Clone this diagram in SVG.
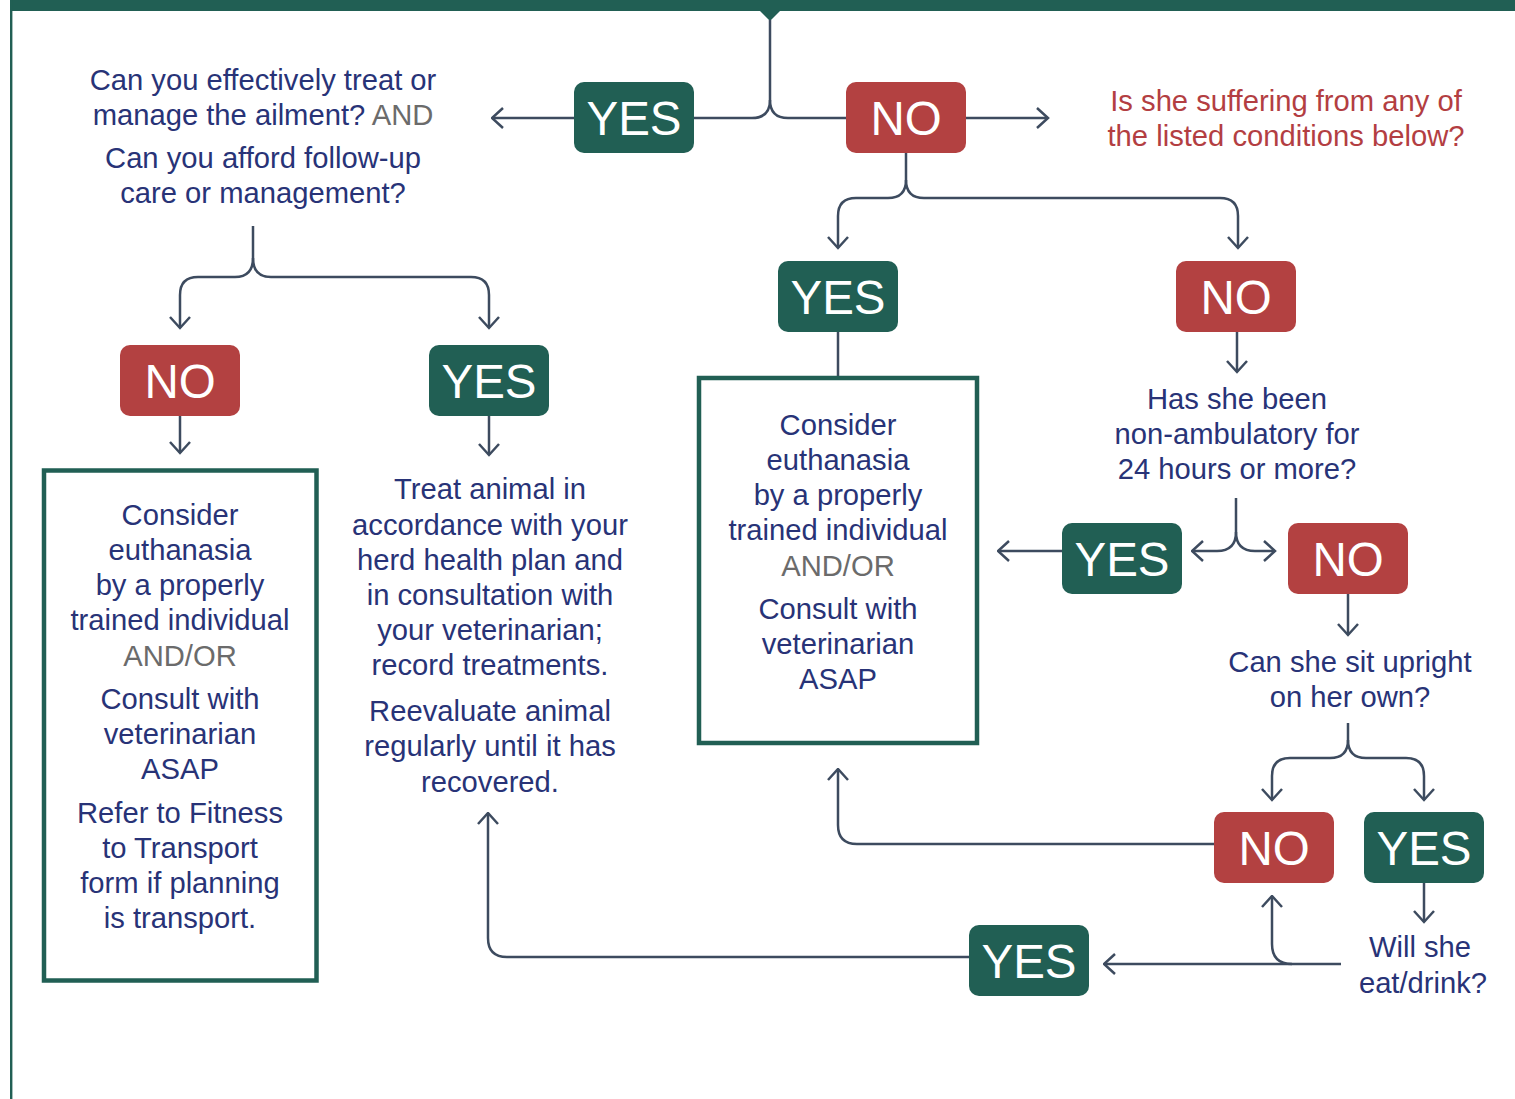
<svg xmlns="http://www.w3.org/2000/svg" width="1515" height="1099" viewBox="0 0 1515 1099">
<style>
  .t { font-family: "Liberation Sans", Arial, sans-serif; font-size: 29.2px; fill: #283377; text-anchor: middle; }
  .g { fill: #6B6B6B; }
  .r { fill: #B33E42; }
  .pl { font-family: "Liberation Sans", Arial, sans-serif; font-size: 47.5px; fill: #FFFFFF; text-anchor: middle; }
  .yes { fill: #215F54; }
  .no { fill: #B34141; }
  .box { fill: #FFFFFF; stroke: #215F54; stroke-width: 4.5; }
  .c { fill: none; stroke: #3D4B5F; stroke-width: 2.5; }
  .ca { fill: none; stroke: #3D4B5F; stroke-width: 2.5; marker-end: url(#arr); }
</style>
<defs>
  <marker id="arr" viewBox="0 0 14 22" refX="12.5" refY="11" markerWidth="14" markerHeight="22" orient="auto" markerUnits="userSpaceOnUse">
    <path d="M1.5,1 L12.5,11 L1.5,21" fill="none" stroke="#3D4B5F" stroke-width="2.5"/>
  </marker>
</defs>
<rect width="1515" height="1099" fill="#FFFFFF"/>
<g id="frame">
  <rect x="10" y="0" width="1505" height="11" fill="#215F54"/>
  <rect x="10" y="0" width="2.4" height="1099" fill="#215F54"/>
  <polygon points="759,10 781,10 770,21" fill="#215F54"/>
</g>
<g id="connectors">
  <path class="c" d="M770,20 V100 Q770,118 752,118 H694"/>
  <path class="c" d="M770,100 Q770,118 788,118 H846"/>
  <path class="ca" d="M574,118 H492"/>
  <path class="ca" d="M966,118 H1048"/>
  <path class="ca" d="M906,153 V180 Q906,198 888,198 H856 Q838,198 838,216 V248"/>
  <path class="ca" d="M906,180 Q906,198 924,198 H1220 Q1238,198 1238,216 V248"/>
  <path class="c" d="M838,332 V378"/>
  <path class="ca" d="M1237,332 V372"/>
  <path class="ca" d="M253,226 V258 Q253,277 235,277 H198 Q180,277 180,295 V328"/>
  <path class="ca" d="M253,258 Q253,277 271,277 H471 Q489,277 489,295 V328"/>
  <path class="ca" d="M180,416 V453"/>
  <path class="ca" d="M489,416 V455"/>
  <path class="ca" d="M1236,498 V532 Q1236,551 1217,551 H1192"/>
  <path class="ca" d="M1236,532 Q1236,551 1255,551 H1275"/>
  <path class="ca" d="M1062,551 H998"/>
  <path class="ca" d="M1348,594 V635"/>
  <path class="ca" d="M1348,723 V740 Q1348,758 1330,758 H1290 Q1272,758 1272,776 V800"/>
  <path class="ca" d="M1348,740 Q1348,758 1366,758 H1406 Q1424,758 1424,776 V800"/>
  <path class="ca" d="M1214,844 H857 Q838,844 838,825 V769"/>
  <path class="ca" d="M1424,883 V922"/>
  <path class="ca" d="M1341,964 H1104"/>
  <path class="ca" d="M1292,964 Q1272,964 1272,944 V896"/>
  <path class="ca" d="M969,957 H507 Q488,957 488,938 V813"/>
</g>
<g id="q-treat">
  <text class="t" x="263" y="90">Can you effectively treat or</text>
  <text class="t" x="263" y="125">manage the ailment? <tspan class="g">AND</tspan></text>
  <text class="t" x="263" y="168">Can you afford follow-up</text>
  <text class="t" x="263" y="203">care or management?</text>
</g>
<g id="q-conditions">
  <text class="t r" x="1286" y="111">Is she suffering from any of</text>
  <text class="t r" x="1286" y="146">the listed conditions below?</text>
</g>
<g id="yes1"><rect class="yes" x="574" y="82" width="120" height="71" rx="10"/><text class="pl" x="634" y="135">YES</text></g>
<g id="no1"><rect class="no" x="846" y="82" width="120" height="71" rx="10"/><text class="pl" x="906" y="135">NO</text></g>
<g id="yes2"><rect class="yes" x="778" y="261" width="120" height="71" rx="10"/><text class="pl" x="838" y="314">YES</text></g>
<g id="no2"><rect class="no" x="1176" y="261" width="120" height="71" rx="10"/><text class="pl" x="1236" y="314">NO</text></g>
<g id="no3"><rect class="no" x="120" y="345" width="120" height="71" rx="10"/><text class="pl" x="180" y="398">NO</text></g>
<g id="yes3"><rect class="yes" x="429" y="345" width="120" height="71" rx="10"/><text class="pl" x="489" y="398">YES</text></g>
<g id="yes4"><rect class="yes" x="1062" y="523" width="120" height="71" rx="10"/><text class="pl" x="1122" y="576">YES</text></g>
<g id="no4"><rect class="no" x="1288" y="523" width="120" height="71" rx="10"/><text class="pl" x="1348" y="576">NO</text></g>
<g id="no5"><rect class="no" x="1214" y="812" width="120" height="71" rx="10"/><text class="pl" x="1274" y="865">NO</text></g>
<g id="yes5"><rect class="yes" x="1364" y="812" width="120" height="71" rx="10"/><text class="pl" x="1424" y="865">YES</text></g>
<g id="yes6"><rect class="yes" x="969" y="925" width="120" height="71" rx="10"/><text class="pl" x="1029" y="978">YES</text></g>
<g id="box-left">
  <rect class="box" x="44" y="470.5" width="272.5" height="510"/>
  <text class="t" x="180" y="525">Consider</text>
  <text class="t" x="180" y="560">euthanasia</text>
  <text class="t" x="180" y="595">by a properly</text>
  <text class="t" x="180" y="630">trained individual</text>
  <text class="t g" x="180" y="666">AND/OR</text>
  <text class="t" x="180" y="709">Consult with</text>
  <text class="t" x="180" y="744">veterinarian</text>
  <text class="t" x="180" y="779">ASAP</text>
  <text class="t" x="180" y="823">Refer to Fitness</text>
  <text class="t" x="180" y="858">to Transport</text>
  <text class="t" x="180" y="893">form if planning</text>
  <text class="t" x="180" y="928">is transport.</text>
</g>
<g id="treat-text">
  <text class="t" x="490" y="499">Treat animal in</text>
  <text class="t" x="490" y="535">accordance with your</text>
  <text class="t" x="490" y="570">herd health plan and</text>
  <text class="t" x="490" y="605">in consultation with</text>
  <text class="t" x="490" y="640">your veterinarian;</text>
  <text class="t" x="490" y="675">record treatments.</text>
  <text class="t" x="490" y="721">Reevaluate animal</text>
  <text class="t" x="490" y="756">regularly until it has</text>
  <text class="t" x="490" y="792">recovered.</text>
</g>
<g id="box-mid">
  <rect class="box" x="699" y="378" width="278" height="365"/>
  <text class="t" x="838" y="435">Consider</text>
  <text class="t" x="838" y="470">euthanasia</text>
  <text class="t" x="838" y="505">by a properly</text>
  <text class="t" x="838" y="540">trained individual</text>
  <text class="t g" x="838" y="576">AND/OR</text>
  <text class="t" x="838" y="619">Consult with</text>
  <text class="t" x="838" y="654">veterinarian</text>
  <text class="t" x="838" y="689">ASAP</text>
</g>
<g id="q-ambulatory">
  <text class="t" x="1237" y="409">Has she been</text>
  <text class="t" x="1237" y="444">non-ambulatory for</text>
  <text class="t" x="1237" y="479">24 hours or more?</text>
</g>
<g id="q-upright">
  <text class="t" x="1350" y="672">Can she sit upright</text>
  <text class="t" x="1350" y="707">on her own?</text>
</g>
<g id="q-eat">
  <text class="t" x="1420" y="957">Will she</text>
  <text class="t" x="1423" y="993">eat/drink?</text>
</g>
</svg>
